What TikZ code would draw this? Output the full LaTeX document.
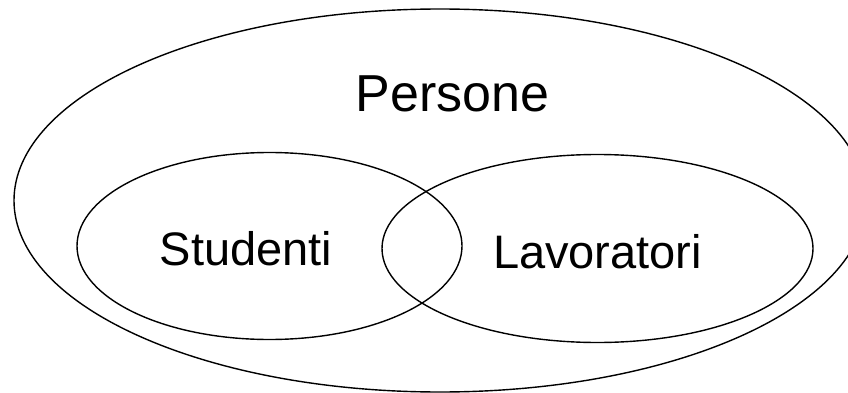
\documentclass[tikz,border=0pt]{standalone}
\usepackage{fontspec}
\setmainfont{Liberation Sans}
\usetikzlibrary{shapes.geometric}
\begin{document}
\begin{tikzpicture}[x=1pt,y=-1pt,
  setshape/.style={ellipse,draw=black,line width=1.4pt,inner sep=0pt,outer sep=0pt},
  setlabel/.style={anchor=base,inner sep=0pt,font=\fontsize{47}{56}\selectfont}]
  \useasboundingbox (0,0) rectangle (848,393);
  \clip (0,0) rectangle (848,393);
  % universe and the two overlapping subsets
  \node[setshape,minimum width=852pt,minimum height=383pt] (persone) at (440,200.5) {};
  \node[setshape,minimum width=385pt,minimum height=187pt] (studenti) at (269.5,246) {};
  \node[setshape,minimum width=431pt,minimum height=188pt] (lavoratori) at (597.5,248.5) {};
  % set names
  \node[setlabel,font=\fontsize{52}{62}\selectfont] (tpersone) at (452.5,112) {Persone};
  \node[setlabel] (tstudenti) at (246,265) {Studenti};
  \node[setlabel] (tlavoratori) at (597.5,268) {Lavoratori};
\end{tikzpicture}
\end{document}
